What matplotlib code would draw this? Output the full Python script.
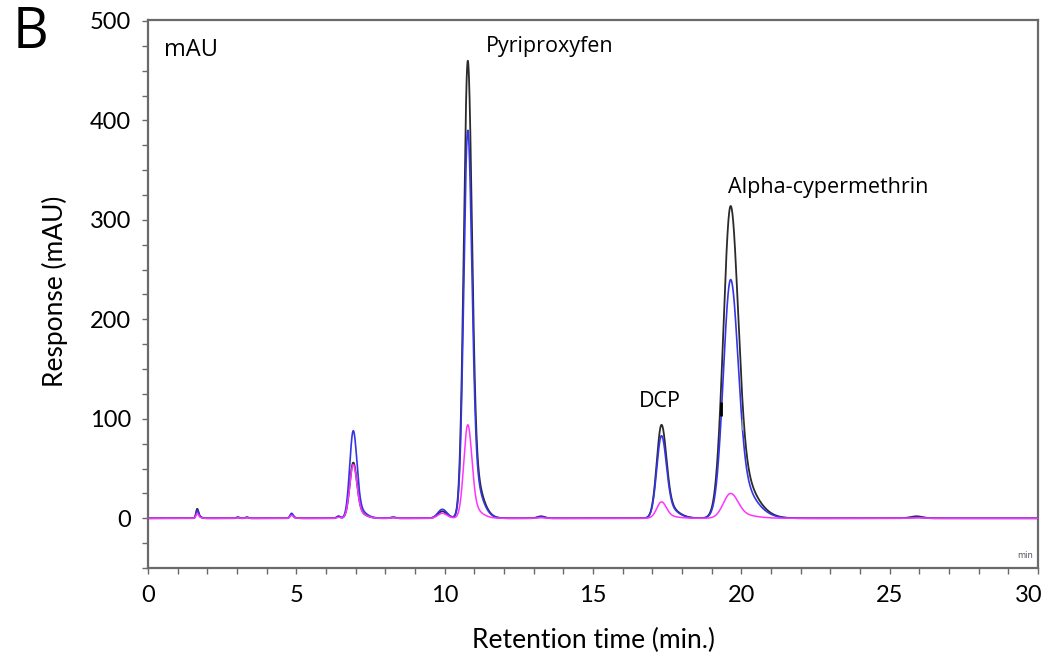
import numpy as np
import matplotlib
matplotlib.use("Agg")
import matplotlib.pyplot as plt
from matplotlib.ticker import MultipleLocator
from matplotlib.transforms import ScaledTranslation

# ---- data ----
peak_rt = [1.66, 3.03, 3.33, 4.84, 6.42, 6.92, 8.26, 9.92, 10.78, 13.25, 17.31, 19.64, 25.9]
peak_sigma = [0.04, 0.05, 0.05, 0.05, 0.06, 0.12, 0.08, 0.15, 0.135, 0.12, 0.16, 0.245, 0.2]
peak_tail = [0.3, 0.0, 0.0, 0.2, 0.0, 0.15, 0.0, 0.1, 0.15, 0.0, 0.18, 0.2, 0.0]
black_heights = [9.5, 1, 1, 4, 2, 56, 1, 7, 460, 2, 94, 314, 2]
blue_heights = [8, 1, 1, 5, 2, 88, 1, 9, 390, 1.5, 83, 240, 1]
magenta_heights = [5, 0.5, 0.5, 3, 1, 54, 0.5, 5, 94, 0.5, 16.5, 25, 0.5]

x_ticks = [0, 5, 10, 15, 20, 25, 30]
y_ticks = [0, 100, 200, 300, 400, 500]

labels = {"Pyriproxyfen": (11.4, 474), "DCP": (17.25, 117), "Alpha-cypermethrin": (19.55, 333)}


def trace(t, heights):
    y = np.zeros_like(t)
    for rt, s, f, h in zip(peak_rt, peak_sigma, peak_tail, heights):
        d = t - rt
        core = np.exp(-0.5 * (d / s) ** 2)
        tail = np.exp(-0.5 * (d / (2.5 * s)) ** 2)
        y += h * np.where(d < 0, core, (1 - f) * core + f * tail)
    return y


t = np.linspace(0, 30, 6001)

fig = plt.figure(figsize=(10.49, 6.59), dpi=100)
ax = fig.add_axes([148 / 1049, 1 - 568 / 659, 890 / 1049, 548 / 659])

ax.plot(t, trace(t, black_heights), color="#2b2b2b", lw=1.3, zorder=3)
ax.plot(t, trace(t, blue_heights), color="#3535e6", lw=1.2, zorder=4)
ax.plot(t, trace(t, magenta_heights), color="#ff33ff", lw=1.1, zorder=5)

# integration markers from the software
ax.vlines(19.33, 103, 117, color="black", lw=2, zorder=6)
ax.vlines(20.03, 89, 100, color="#999999", lw=1, zorder=6)

ax.set_xlim(0, 30)
ax.set_ylim(-50, 501)
ax.set_xticks(x_ticks)
ax.set_xticklabels([str(v) for v in x_ticks])
ax.set_yticks(y_ticks)
ax.xaxis.set_minor_locator(MultipleLocator(1))
ax.yaxis.set_minor_locator(MultipleLocator(25))

for sp in ax.spines.values():
    sp.set_color("#6a6a6a")
    sp.set_linewidth(1.6)
ax.tick_params(which="both", direction="out", length=4, width=1, color="#6a6a6a")
ax.tick_params(which="major", labelsize=17, pad=8)
for lab in ax.get_xticklabels() + ax.get_yticklabels():
    lab.set_family("Lato")
last = ax.get_xticklabels()[-1]
last.set_transform(last.get_transform() + ScaledTranslation(-9 / 100, 0, fig.dpi_scale_trans))

ax.set_xlabel("Retention time (min.)", fontsize=19, family="Lato", va="center")
ax.set_ylabel("Response (mAU)", fontsize=19, family="Lato", va="center")
ax.xaxis.set_label_coords(0.5, (568 - 640) / 548)
ax.yaxis.set_label_coords((55 - 148) / 890, 0.505)

ax.text(0.55, 471, "mAU", fontsize=17, family="Open Sans", va="center", ha="left")
for name, (xx, yy) in labels.items():
    ha = "center" if name == "DCP" else "left"
    ax.text(xx, yy, name, fontsize=15.5, family="Open Sans", va="center", ha=ha)

ax.text(29.85, -37, "min", fontsize=6, color="#556", ha="right", va="center")

fig.text(13 / 1049, 1 - 33 / 659, "B", fontsize=40, family="Open Sans", va="center", ha="left")

fig.savefig("out.png", dpi=100)
